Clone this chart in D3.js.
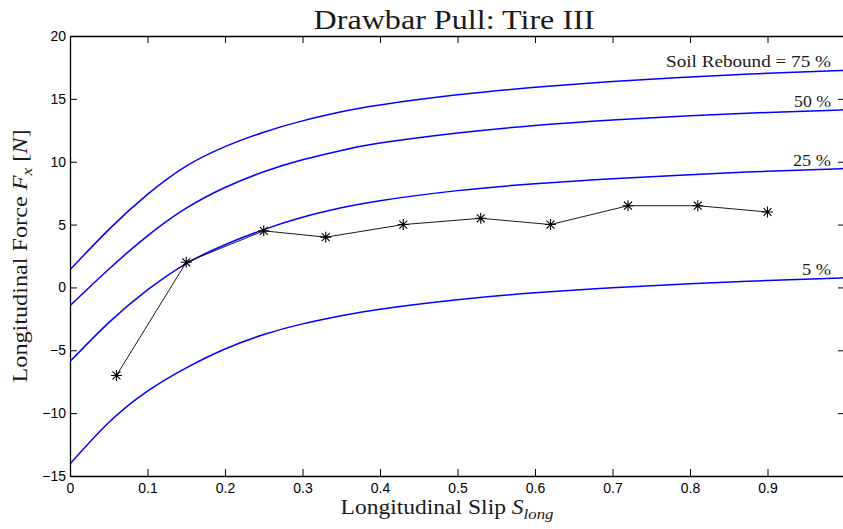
<!DOCTYPE html>
<html><head><meta charset="utf-8">
<script src="https://cdn.jsdelivr.net/npm/d3@7"></script>
<style>
html,body{margin:0;padding:0;background:#fff;}
svg{display:block;}
</style>
</head><body>
<script>
// ---- data ----
const slipGrid  = [0, 0.05, 0.1, 0.15, 0.2, 0.25, 0.3, 0.35, 0.4, 0.5, 0.6, 0.7, 0.8, 0.9, 1.0];
const rebound75 = [1.4, 4.6, 7.4, 9.65, 11.2, 12.35, 13.25, 13.97, 14.52, 15.32, 15.92, 16.38, 16.74, 17.03, 17.26];
const rebound50 = [-1.45, 1.45, 4.1, 6.3, 7.95, 9.2, 10.15, 10.9, 11.48, 12.28, 12.88, 13.32, 13.66, 13.92, 14.13];
const rebound25 = [-5.9, -2.8, -0.2, 1.9, 3.4, 4.6, 5.58, 6.33, 6.9, 7.7, 8.25, 8.65, 8.97, 9.24, 9.46];
const rebound5  = [-14.05, -10.75, -8.25, -6.4, -4.9, -3.75, -2.9, -2.25, -1.73, -0.98, -0.43, -0.03, 0.29, 0.55, 0.77];
const curveLabels = ["Soil Rebound = 75 %", "50 %", "25 %", "5 %"];
const measSlip  = [0.06, 0.15, 0.25, 0.33, 0.43, 0.53, 0.62, 0.72, 0.81, 0.9];
const measForce = [-7, 2, 4.5, 4, 5, 5.5, 5, 6.5, 6.5, 6];
const xTicks = [0, 0.1, 0.2, 0.3, 0.4, 0.5, 0.6, 0.7, 0.8, 0.9, 1.0];
const yTicks = [-15, -10, -5, 0, 5, 10, 15, 20];

const W = 843, H = 529;
const m = {left: 70, right: 845, top: 36, bottom: 476};
const svg = d3.select("body").append("svg").attr("width", W).attr("height", H);

const x = d3.scaleLinear().domain([0, 1]).range([m.left, m.right]);
const y = d3.scaleLinear().domain([-15, 20]).range([m.bottom, m.top]);

const serif = "'Liberation Serif', 'DejaVu Serif', serif";
const sans = "'Liberation Sans', Arial, sans-serif";
const ink = "#1a1a1a";

// curves
const series = [rebound75, rebound50, rebound25, rebound5];
const line = d3.line().x(d => x(d[0])).y(d => y(d[1])).curve(d3.curveNatural);
series.forEach(s => {
  svg.append("path")
    .attr("d", line(slipGrid.map((g, i) => [g, s[i]])))
    .attr("fill", "none").attr("stroke", "#0000ff").attr("stroke-width", 1.5);
});

// curve labels (right aligned near the right edge)
const labelY = [17.26, 14.13, 9.46, 0.77];
const labelW = [165, 37, 38, 29];
const labelRight = 831;
curveLabels.forEach((t, i) => {
  svg.append("text")
    .attr("x", labelRight - labelW[i]).attr("y", y(labelY[i]) - 3)
    .attr("font-family", serif).attr("font-size", 17)
    .attr("fill", ink)
    .attr("textLength", labelW[i]).attr("lengthAdjust", "spacingAndGlyphs")
    .text(t);
});

// measured data
const mline = d3.line().x(d => x(d[0])).y(d => y(d[1]));
const pts = measSlip.map((s, i) => [s, measForce[i]]);
svg.append("path").attr("d", mline(pts)).attr("fill", "none")
  .attr("stroke", "#000").attr("stroke-width", 0.9);
const r = 5.5, rd = r * 0.72;
pts.forEach(p => {
  const cx = x(p[0]), cy = y(p[1]);
  svg.append("path")
    .attr("d", `M${cx - r},${cy}L${cx + r},${cy}M${cx},${cy - r}L${cx},${cy + r}` +
               `M${cx - rd},${cy - rd}L${cx + rd},${cy + rd}M${cx - rd},${cy + rd}L${cx + rd},${cy - rd}`)
    .attr("stroke", "#000").attr("stroke-width", 1.1).attr("fill", "none");
});

// axes (box with inward ticks)
const fmtY = d => d < 0 ? "\u2212" + Math.abs(d) : String(d);
const axB = d3.axisBottom(x).tickValues(xTicks).tickSizeInner(-7).tickSizeOuter(0).tickPadding(7)
  .tickFormat(d => d === 1 ? "" : (d === 0 ? "0" : d3.format(".1f")(d)));
const axT = d3.axisTop(x).tickValues(xTicks).tickSizeInner(-7).tickSizeOuter(0).tickFormat("");
const axL = d3.axisLeft(y).tickValues(yTicks).tickSizeInner(-7).tickSizeOuter(0).tickPadding(4).tickFormat(fmtY);
const axR = d3.axisRight(y).tickValues(yTicks).tickSizeInner(-7).tickSizeOuter(0).tickFormat("");

function style(g) {
  g.selectAll("path.domain").attr("stroke", "#000").attr("stroke-width", 1.3);
  g.selectAll(".tick line").attr("stroke", "#000").attr("stroke-width", 1);
  g.selectAll(".tick text").attr("font-family", sans).attr("font-size", 14).attr("fill", "#000");
}
svg.append("g").attr("transform", `translate(0,${m.bottom})`).call(axB).call(style);
svg.append("g").attr("transform", `translate(0,${m.top})`).call(axT).call(style);
svg.append("g").attr("transform", `translate(${m.left},0)`).call(axL).call(style);
svg.append("g").attr("transform", `translate(${m.right},0)`).call(axR).call(style);

// title
svg.append("text").attr("x", 454).attr("y", 29).attr("text-anchor", "middle")
  .attr("font-family", serif).attr("font-size", 27).attr("fill", ink)
  .attr("textLength", 281).attr("lengthAdjust", "spacingAndGlyphs")
  .text("Drawbar Pull: Tire III");

// x label
const xl = svg.append("text").attr("x", 447).attr("y", 514).attr("text-anchor", "middle")
  .attr("font-family", serif).attr("font-size", 21).attr("fill", ink)
  .attr("textLength", 213).attr("lengthAdjust", "spacingAndGlyphs");
xl.append("tspan").text("Longitudinal Slip ");
xl.append("tspan").attr("font-style", "italic").text("S");
xl.append("tspan").attr("font-style", "italic").attr("font-size", 15).attr("dy", 5).text("long");

// y label
const yl = svg.append("text").attr("transform", `translate(27,${(m.top + m.bottom) / 2}) rotate(-90)`)
  .attr("text-anchor", "middle")
  .attr("font-family", serif).attr("font-size", 21).attr("fill", ink)
  .attr("textLength", 253).attr("lengthAdjust", "spacingAndGlyphs");
yl.append("tspan").text("Longitudinal Force ");
yl.append("tspan").attr("font-style", "italic").text("F");
yl.append("tspan").attr("font-style", "italic").attr("font-size", 15).attr("dy", 5).text("x");
yl.append("tspan").attr("dy", -5).text(" [");
yl.append("tspan").attr("font-style", "italic").text("N");
yl.append("tspan").text("]");
</script>
</body></html>
